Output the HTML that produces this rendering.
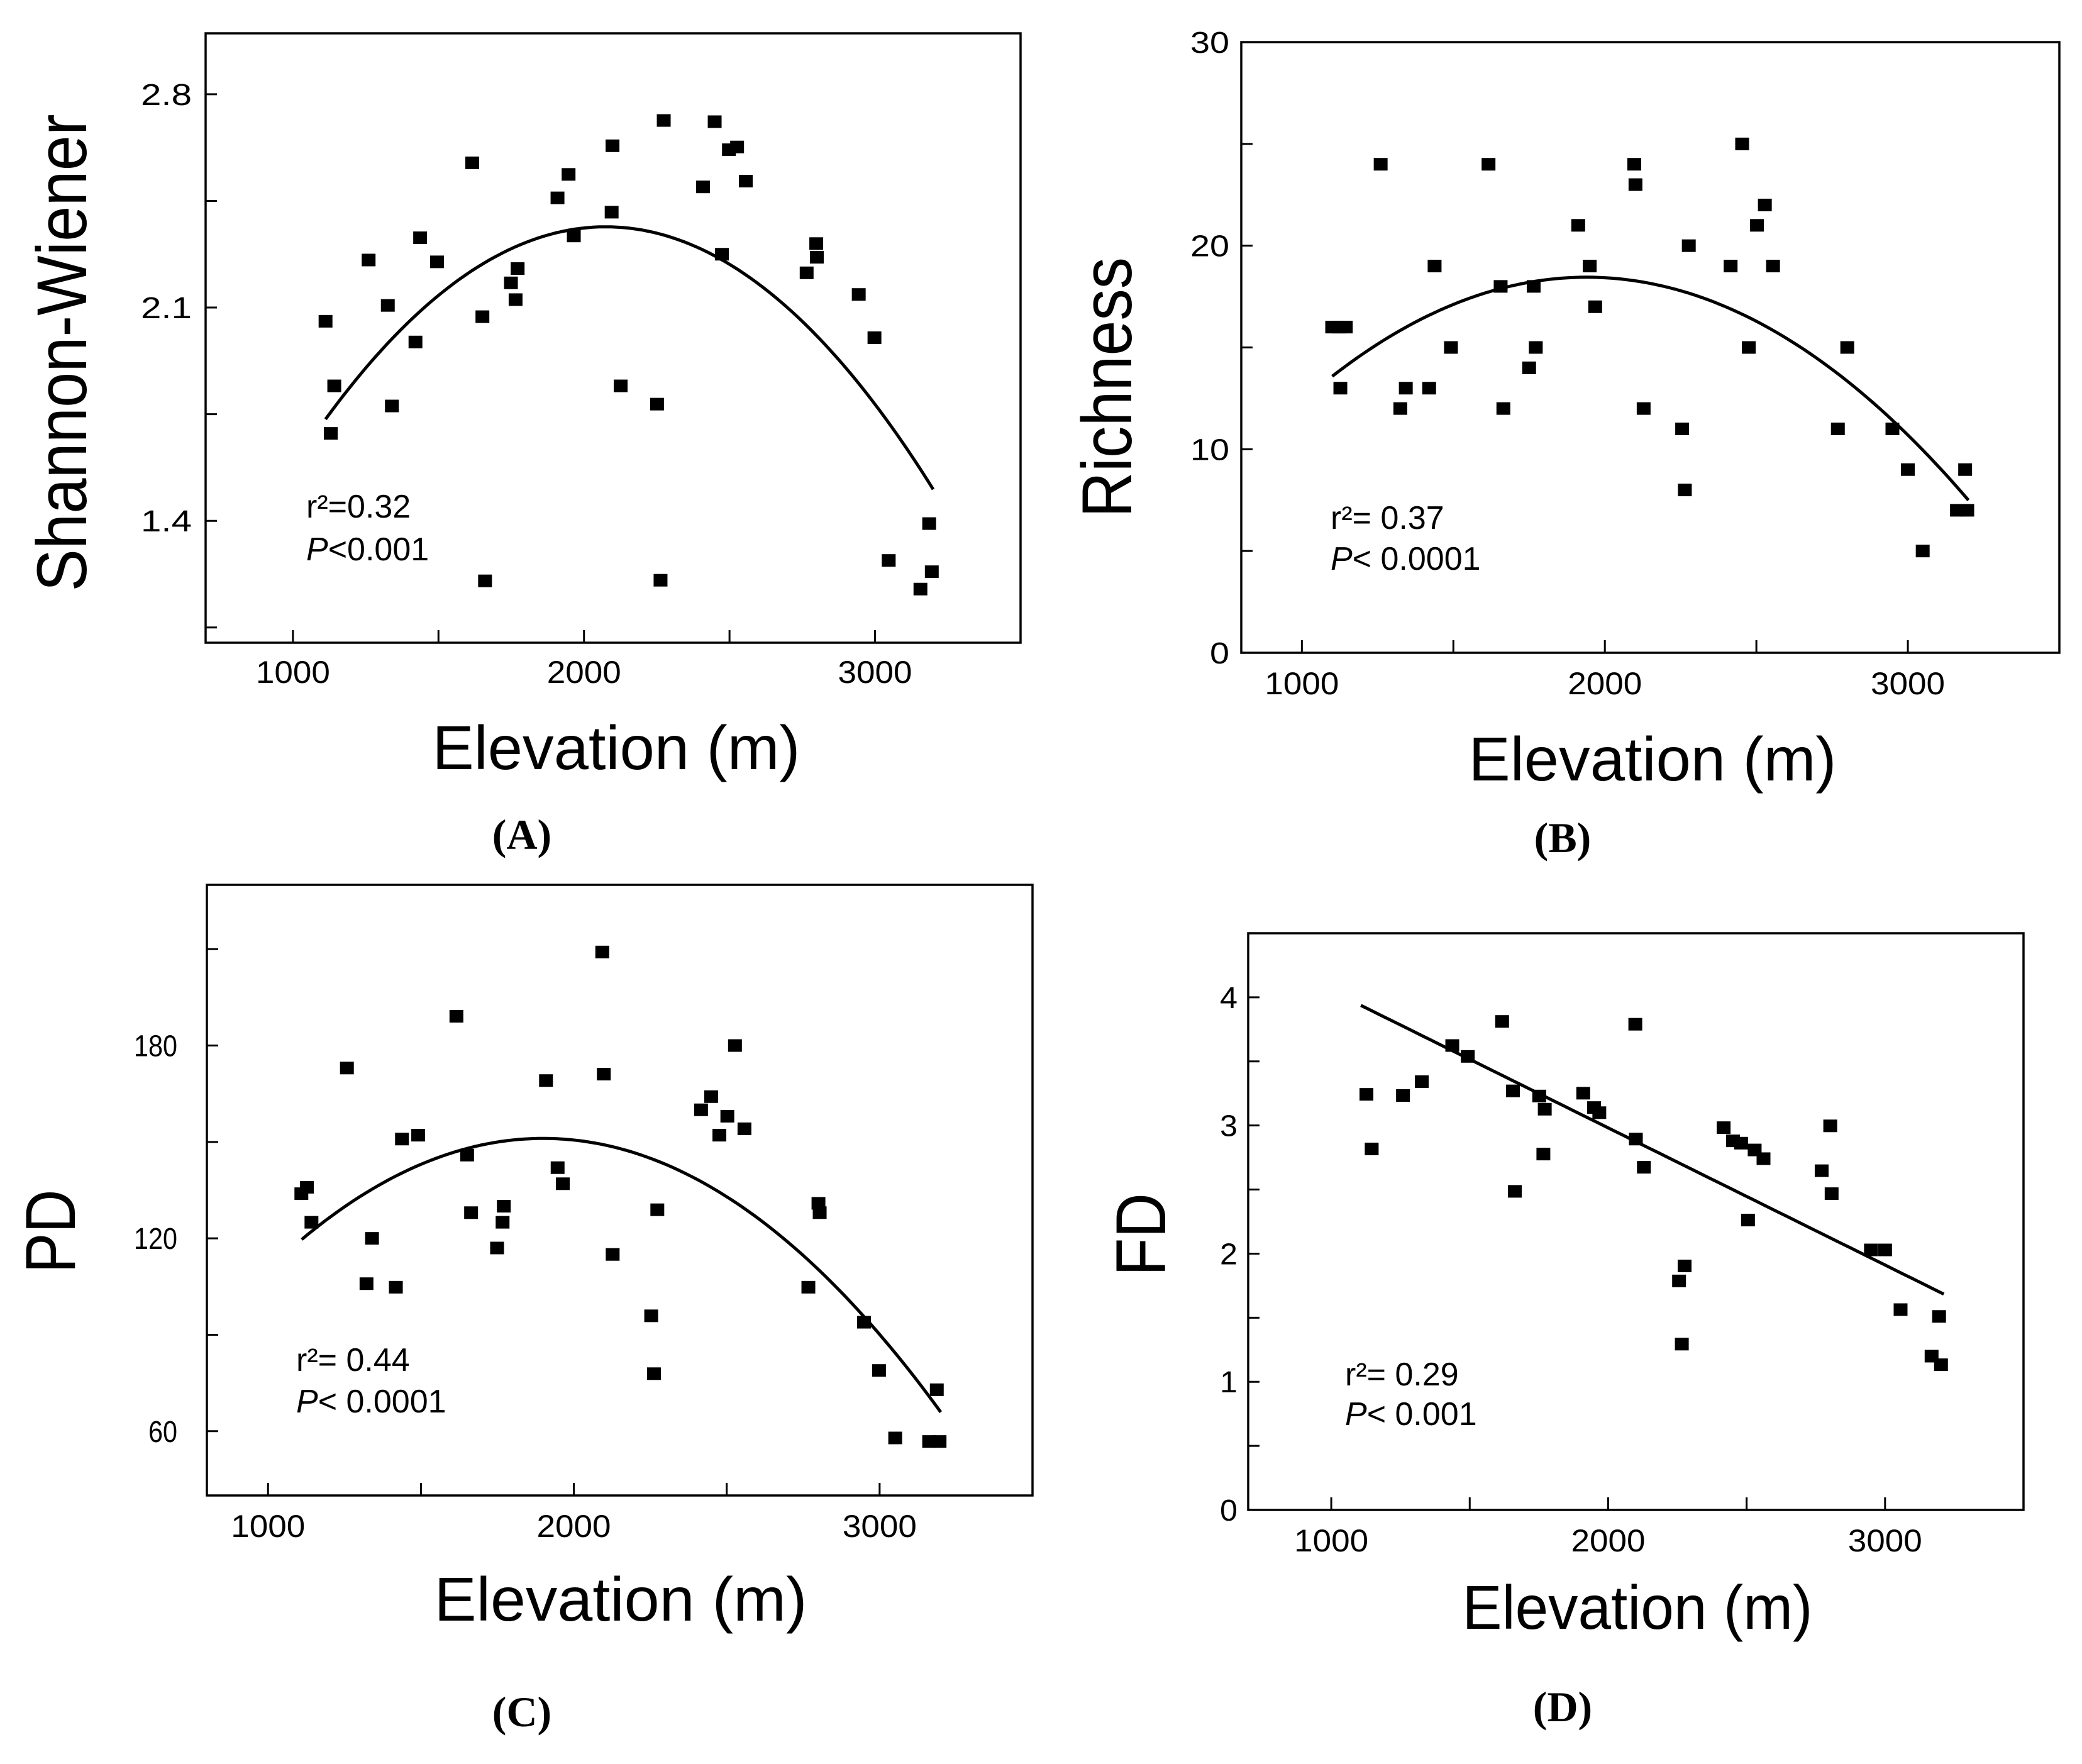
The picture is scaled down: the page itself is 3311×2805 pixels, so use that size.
<!DOCTYPE html>
<html><head><meta charset="utf-8">
<style>
html,body{margin:0;padding:0;background:#fff;}
svg{display:block;}
text{font-family:"Liberation Sans",sans-serif;fill:#000;}
</style></head>
<body>
<svg id="fig" width="3311" height="2805" viewBox="0 0 3311 2805" xmlns="http://www.w3.org/2000/svg">
<rect x="0" y="0" width="3311" height="2805" fill="#fff"/>
</svg>
<script>
// ---------- DATA ----------
// Panel A: Shannon-Wiener
const aElev = [1112,1142,1130,1260,1326,1340,1421,1437,1495,1616,1651,1660,1749,1772,1765,1909,1947,1965,2095,2098,2126,2251,2263,2274,2409,2449,2474,2498,2526,2556,2765,2798,2800,2944,2998,3047,3156,3186,3195];
const aVal  = [2.055,1.843,1.687,2.256,2.107,1.777,1.987,2.329,2.250,2.575,2.070,1.203,2.181,2.228,2.126,2.460,2.537,2.335,2.413,2.631,1.843,1.783,1.205,2.714,2.496,2.710,2.275,2.618,2.627,2.515,2.214,2.310,2.265,2.143,2.001,1.270,1.176,1.391,1.233];
const aFit = [-6.81e-7, 2075, 2.365]; // y = a(x-h)^2 + k
const aFitRange = [1112, 3200];
const aYTicks = [1.05,1.4,1.75,2.1,2.45,2.8];
const aYLabels = ["","1.4","","2.1","","2.8"];

// Panel B: Richness
const bElev = [1100,1122,1145,1127,1260,1325,1343,1420,1438,1492,1616,1656,1665,1750,1765,1772,1912,1950,1968,2097,2101,2128,2255,2264,2277,2415,2453,2475,2502,2528,2555,2769,2800,2949,3000,3049,3162,3196,3189];
const bVal  = [16,16,16,13,24,12,13,13,19,15,24,18,12,14,18,15,21,19,17,24,23,12,11,8,20,19,25,15,21,22,19,11,15,11,9,5,7,7,9];
const bFit = [-6.9e-6, 1940, 18.45];
const bFitRange = [1100, 3200];
const bYTicks = [0,5,10,15,20,25,30];
const bYLabels = ["0","","10","","20","","30"];

// Panel C: PD
const cElev = [1109,1127,1142,1258,1322,1340,1418,1438,1491,1616,1651,1664,1749,1767,1771,1909,1947,1964,2093,2098,2127,2253,2262,2273,2416,2449,2476,2502,2527,2558,2767,2800,2804,2949,2998,3051,3162,3196,3187];
const cVal  = [133.9,135.9,125,173,105.9,120,104.8,150.9,152.1,189.1,145.9,128,117,125,130,169.1,142,137,209.1,171.1,115,95.9,77.9,128.9,160,164.1,152.1,158,180,154.1,104.8,130.9,128,93.9,78.9,57.9,56.8,56.8,72.9];
const cFit = [-5.04e-5, 1900, 151.1];
const cFitRange = [1110, 3200];
const cYTicks = [60,90,120,150,180,210];
const cYLabels = ["60","","120","","180",""];

// Panel D: FD
const dElev = [1127,1146,1259,1327,1437,1493,1617,1656,1663,1751,1766,1771,1910,1949,1968,2098,2100,2129,2256,2276,2266,2417,2451,2480,2505,2529,2561,2771,2802,2807,2949,3000,3056,3168,3195,3202];
const dVal  = [3.243,2.817,3.234,3.342,3.624,3.539,3.812,3.270,2.486,3.230,2.777,3.127,3.252,3.140,3.100,3.790,2.894,2.674,1.787,1.904,1.294,2.983,2.880,2.862,2.262,2.809,2.741,2.647,2.997,2.468,2.029,2.029,1.563,1.200,1.510,1.133];
const dFitLinear = [-1.0703e-3, 5.122]; // y = m x + b
const dFitRange = [1107, 3212];
const dYTicks = [0,0.5,1,1.5,2,2.5,3,3.5,4];
const dYLabels = ["0","","1","","2","","3","","4"];

const xTicks = [1000,1500,2000,2500,3000];
const xLabels = ["1000","","2000","","3000"];

// ---------- DRAWING ----------
const NS = "http://www.w3.org/2000/svg";
const svg = document.getElementById("fig");
function mk(tag, attrs, parent){
  const e = document.createElementNS(NS, tag);
  for (const k in attrs) e.setAttribute(k, attrs[k]);
  (parent||svg).appendChild(e);
  return e;
}

function panel(cfg){
  const g = mk("g", {});
  
  
  const L=cfg.box[0], R=cfg.box[1], T=cfg.box[2], B=cfg.box[3];
  const sx = v => L + (v - cfg.xDom[0])/(cfg.xDom[1]-cfg.xDom[0])*(R-L);
  const sy = v => B - (v - cfg.yDom[0])/(cfg.yDom[1]-cfg.yDom[0])*(B-T);

  const frame = mk("rect",{x:L,y:T,width:R-L,height:B-T,fill:"none",stroke:"#000","stroke-width":3.5},g);
  
  

  xTicks.forEach((t,i)=>{
    const x = sx(t);
    const tk = mk("line",{x1:x,x2:x,y1:B,y2:B-20,stroke:"#000","stroke-width":3},g);
    
    
    if (xLabels[i]) {
      const tx = mk("text",{x:x,y:cfg.xLabY,"font-size":50,"text-anchor":"middle",textLength:118,lengthAdjust:"spacingAndGlyphs"},g);
      tx.textContent = xLabels[i];
      
      
    }
  });
  cfg.yTicks.forEach((t,i)=>{
    const y = sy(t);
    const tk = mk("line",{x1:L,x2:L+18,y1:y,y2:y,stroke:"#000","stroke-width":3},g);
    
    
    const lab = cfg.yLabels[i];
    if (lab) {
      const tx = mk("text",{x:cfg.yLabX,y:y+17,"font-size":48,"text-anchor":"end",textLength:lab.length*cfg.digitW,lengthAdjust:"spacingAndGlyphs"},g);
      tx.textContent = lab;
      
      
    }
  });
  let d = "";
  for (let i=0;i<=100;i++){
    const xv = cfg.fitRange[0] + (cfg.fitRange[1]-cfg.fitRange[0])*i/100;
    const yv = cfg.fitFn(xv);
    d += (i?"L":"M") + sx(xv).toFixed(1) + "," + sy(yv).toFixed(1);
  }
  const fit = mk("path",{d:d,fill:"none",stroke:"#000","stroke-width":5},g);
  
  
  cfg.xs.forEach((xv,i)=>{
    const p = mk("rect",{x:sx(xv)-11,y:sy(cfg.ys[i])-10,width:22,height:20,fill:"#000"},g);
    
    
  });
  const xt = mk("text",{x:cfg.xTitle[0],y:cfg.xTitle[1],"font-size":98,"text-anchor":"middle",textLength:cfg.xTitle[2],lengthAdjust:"spacingAndGlyphs"},g);
  xt.textContent = "Elevation (m)";
  
  
  const yt = mk("text",{x:cfg.yTitle[0],y:cfg.yTitle[1],"font-size":112,"text-anchor":"middle",textLength:cfg.yTitle[2],lengthAdjust:"spacingAndGlyphs",transform:`rotate(-90 ${cfg.yTitle[0]} ${cfg.yTitle[1]})`},g);
  yt.textContent = cfg.yName;
  
  
  const r2 = mk("text",{x:cfg.ann[0],y:cfg.ann[1],"font-size":52},g);
  r2.textContent = cfg.r2Text;
  
  
  const pv = mk("text",{x:cfg.ann[0],y:cfg.ann[2],"font-size":52},g);
  const pi = mk("tspan",{"font-style":"italic"},pv);
  pi.textContent = "P";
  const pr = mk("tspan",{},pv);
  pr.textContent = cfg.pText;
  
  
  const pl = mk("text",{x:cfg.lab[0],y:cfg.lab[1],"font-size":68,"font-weight":"bold","text-anchor":"middle",style:'font-family:"Liberation Serif",serif'},g);
  pl.textContent = cfg.labText;
  
  
}

panel({id:"shannon-wiener", box:[327,1623,53,1022], xDom:[700,3500], yDom:[1.0,3.0],
  yTicks:aYTicks, yLabels:aYLabels, yLabX:305, digitW:27, xLabY:1086,
  xs:aElev, ys:aVal, fitFn:x=>aFit[0]*(x-aFit[1])*(x-aFit[1])+aFit[2], fitRange:aFitRange,
  xTitle:[980,1223,585], yTitle:[137,561,759], yName:"Shannon-Wiener",
  ann:[487,823,891], r2Text:"r²=0.32", pText:"<0.001", lab:[830,1350], labText:"(A)"});

panel({id:"richness", box:[1974,3275,67,1038], xDom:[800,3500], yDom:[0,30],
  yTicks:bYTicks, yLabels:bYLabels, yLabX:1955, digitW:31, xLabY:1104,
  xs:bElev, ys:bVal, fitFn:x=>bFit[0]*(x-bFit[1])*(x-bFit[1])+bFit[2], fitRange:bFitRange,
  xTitle:[2628,1241,585], yTitle:[1799,616,414], yName:"Richness",
  ann:[2116,841,906], r2Text:"r²= 0.37", pText:"< 0.0001", lab:[2485,1355], labText:"(B)"});

panel({id:"pd", box:[329,1642,1407,2378], xDom:[800,3500], yDom:[40,230],
  yTicks:cYTicks, yLabels:cYLabels, yLabX:282, digitW:23, xLabY:2444,
  xs:cElev, ys:cVal, fitFn:x=>cFit[0]*(x-cFit[1])*(x-cFit[1])+cFit[2], fitRange:cFitRange,
  xTitle:[987,2577,593], yTitle:[119,1958,133], yName:"PD",
  ann:[471,2180,2246], r2Text:"r²= 0.44", pText:"< 0.0001", lab:[830,2745], labText:"(C)"});

panel({id:"fd", box:[1985,3218,1484,2401], xDom:[700,3500], yDom:[0,4.5],
  yTicks:dYTicks, yLabels:dYLabels, yLabX:1968, digitW:28, xLabY:2467,
  xs:dElev, ys:dVal, fitFn:x=>dFitLinear[0]*x+dFitLinear[1], fitRange:dFitRange,
  xTitle:[2604,2590,557], yTitle:[1853,1963,132], yName:"FD",
  ann:[2139,2203,2266], r2Text:"r²= 0.29", pText:"< 0.001", lab:[2485,2737], labText:"(D)"});
</script>
</body></html>
